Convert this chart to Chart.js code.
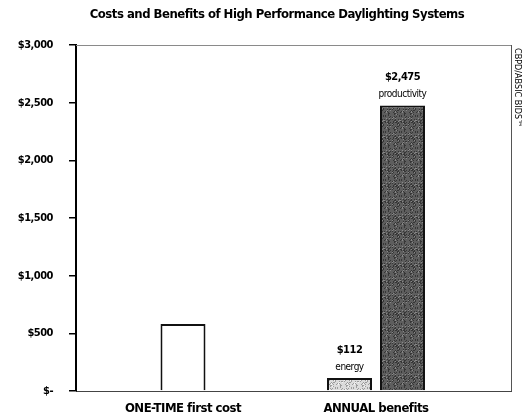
<!DOCTYPE html>
<html>
<head>
<meta charset="utf-8">
<title>Costs and Benefits of High Performance Daylighting Systems</title>
<script src="https://cdn.jsdelivr.net/npm/chart.js@4/dist/chart.umd.min.js"></script>
<style>
  html, body { margin: 0; padding: 0; background: #ffffff; }
  #wrap { width: 523px; height: 420px; }
</style>
</head>
<body>
<div id="wrap"><canvas id="chart" width="523" height="420"></canvas></div>
<script>
// Chart title
const chartTitle = 'Costs and Benefits of High Performance Daylighting Systems';

// Categories along the bottom axis
const categories = ['ONE-TIME first cost', 'ANNUAL benefits'];

// Dollar values per category (null where a series has no bar)
const firstCost    = [580, null];
const energy       = [null, 112];
const productivity = [null, 2475];

// Value axis ticks and their printed labels
const yTickValues = [0, 500, 1000, 1500, 2000, 2500, 3000];
const yTickLabels = ['$-', '$500', '$1,000', '$1,500', '$2,000', '$2,500', '$3,000'];

const FONT = "'DejaVu Sans Condensed', 'Liberation Sans', sans-serif";
const TIGHT = '-0.5px';
const TITLE_CENTER_X = 277;

// Small stippled fill tiles for the benefit bars
function stipple(bg, dark, light) {
  const c = document.createElement('canvas');
  c.width = 16; c.height = 16;
  const g = c.getContext('2d');
  g.fillStyle = bg;
  g.fillRect(0, 0, 16, 16);
  for (let y = 0; y < 16; y++) {
    for (let x = 0; x < 16; x++) {
      const h = (x * 7 + y * 13 + x * y * 5 + ((x ^ y) * 3)) % 9;
      if (h === 0 || h === 4) { g.fillStyle = dark; g.fillRect(x, y, 1, 1); }
      else if (h === 2 && light) { g.fillStyle = light; g.fillRect(x, y, 1, 1); }
    }
  }
  return g.createPattern(c, 'repeat');
}

const points = arr => categories.map((c, i) => ({ x: i, y: arr[i] }));
const fmtMoney = v => '$' + Number(v).toLocaleString('en-US');

// Slightly tighter letter spacing for every text on the canvas
const tightText = {
  id: 'tightText',
  beforeUpdate(chart) { chart.ctx.letterSpacing = TIGHT; },
  beforeDraw(chart) { chart.ctx.letterSpacing = TIGHT; }
};

// Title, frame, value captions and the side credit line
const decorations = {
  id: 'decorations',
  afterDatasetsDraw(chart) {
    const { ctx, chartArea: a } = chart;
    ctx.save();

    ctx.fillStyle = '#000000';
    ctx.font = 'bold 13px ' + FONT;
    ctx.textAlign = 'center';
    ctx.textBaseline = 'middle';
    ctx.fillText(chartTitle, TITLE_CENTER_X, 15);

    ctx.lineWidth = 1;
    ctx.strokeStyle = '#8a8a8a';
    ctx.beginPath();
    ctx.moveTo(a.left, a.top + 0.5);
    ctx.lineTo(a.right + 0.5, a.top + 0.5);
    ctx.stroke();
    ctx.strokeStyle = '#555555';
    ctx.beginPath();
    ctx.moveTo(a.right + 0.5, a.top);
    ctx.lineTo(a.right + 0.5, a.bottom);
    ctx.stroke();

    chart.data.datasets.forEach((ds, di) => {
      if (!ds.caption) return;
      const meta = chart.getDatasetMeta(di);
      meta.data.forEach((bar, i) => {
        const v = ds.data[i].y;
        if (v === null || v === undefined) return;
        ctx.font = 'bold 11px ' + FONT;
        ctx.fillText(fmtMoney(v), bar.x, bar.y - 28);
        ctx.font = '10px ' + FONT;
        ctx.fillText(ds.caption, bar.x, bar.y - 11);
      });
    });

    ctx.letterSpacing = '0px';
    ctx.translate(a.right + 2, a.top + 3);
    ctx.rotate(Math.PI / 2);
    ctx.font = '9px ' + FONT;
    ctx.textAlign = 'left';
    ctx.textBaseline = 'bottom';
    ctx.fillText('CBPD/ABSIC BIDS\u2122', 0, 0);
    ctx.restore();
  }
};

new Chart(document.getElementById('chart'), {
  type: 'bar',
  data: {
    datasets: [
      {
        label: 'first cost',
        data: points(firstCost),
        backgroundColor: '#ffffff',
        borderColor: '#111111',
        borderWidth: 2
      },
      {
        label: 'energy',
        caption: 'energy',
        data: points(energy),
        backgroundColor: stipple('#dcdcdc', '#9c9c9c', '#f4f4f4'),
        borderColor: '#111111',
        borderWidth: 2
      },
      {
        label: 'productivity',
        caption: 'productivity',
        data: points(productivity),
        backgroundColor: stipple('#5e5e5e', '#363636', '#888888'),
        borderColor: '#111111',
        borderWidth: 2
      }
    ]
  },
  options: {
    responsive: false,
    animation: false,
    skipNull: true,
    categoryPercentage: 0.549,
    barPercentage: 0.85,
    maxBarThickness: 45,
    layout: { padding: { left: 0, right: 12, top: 45, bottom: 0 } },
    plugins: {
      legend: { display: false },
      tooltip: { enabled: false },
      title: { display: false }
    },
    scales: {
      x: {
        type: 'linear',
        offset: false,
        bounds: 'data',
        grace: 0,
        afterDataLimits: axis => { axis.min = -0.5544; axis.max = 1.6995; },
        afterBuildTicks: axis => { axis.ticks = categories.map((c, i) => ({ value: i })); },
        afterFit: axis => { axis.height = 29; },
        grid: { display: false, drawTicks: false, offset: false },
        border: { display: true, color: '#444444', width: 1 },
        ticks: {
          autoSkip: false,
          maxRotation: 0,
          padding: 10,
          color: '#000000',
          font: { family: FONT, size: 13, weight: 'bold' },
          callback: v => categories[v]
        }
      },
      y: {
        min: 0,
        max: 3000,
        afterBuildTicks: axis => { axis.ticks = yTickValues.map(v => ({ value: v })); },
        afterFit: axis => { axis.width = 76; },
        grid: { display: true, drawOnChartArea: false, drawTicks: true, tickLength: 7, color: '#000000', lineWidth: 1.5 },
        border: { display: true, color: '#000000', width: 2 },
        ticks: {
          padding: 16,
          color: '#000000',
          font: { family: FONT, size: 11, weight: 'bold' },
          callback: (v, i) => yTickLabels[i]
        }
      }
    }
  },
  plugins: [tightText, decorations]
});
</script>
</body>
</html>
